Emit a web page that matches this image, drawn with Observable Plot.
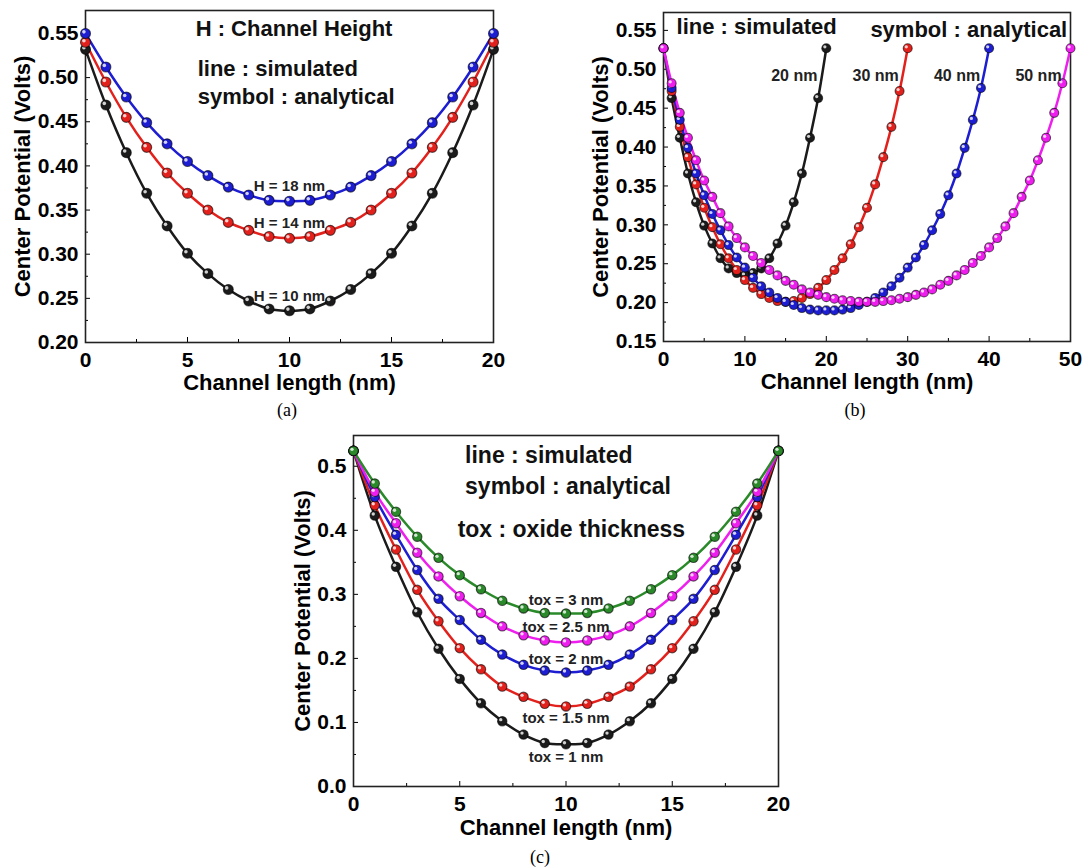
<!DOCTYPE html>
<html><head><meta charset="utf-8">
<script src="https://cdn.jsdelivr.net/npm/d3@7"></script>
<script src="https://cdn.jsdelivr.net/npm/@observablehq/plot@0.6"></script>
<style>
body{margin:0;background:#fff;}
#wrap{position:relative;width:1085px;height:868px;background:#fff;overflow:hidden;}
.cap{position:absolute;font-family:"Liberation Serif","Times New Roman",serif;font-size:18px;transform:translate(-50%,-50%);color:#000;}
</style></head><body>
<div id="wrap"></div>
<script>
// ---------- Panel (a): channel height ----------
const xA = [0,1,2,3,4,5,6,7,8,9,10,11,12,13,14,15,16,17,18,19,20];
const h10 = [0.532,0.469,0.415,0.369,0.332,0.301,0.278,0.260,0.247,0.238,0.236,0.238,0.247,0.260,0.278,0.301,0.332,0.369,0.415,0.469,0.532];
const h14 = [0.540,0.495,0.455,0.421,0.392,0.369,0.350,0.336,0.327,0.320,0.318,0.320,0.327,0.336,0.350,0.369,0.392,0.421,0.455,0.495,0.540];
const h18 = [0.550,0.512,0.478,0.449,0.425,0.405,0.389,0.376,0.367,0.361,0.360,0.361,0.367,0.376,0.389,0.405,0.425,0.449,0.478,0.512,0.550];
const labelsA = ["H = 10 nm","H = 14 nm","H = 18 nm"];

// ---------- Panel (b): channel length ----------
const x20 = [0,1,2,3,4,5,6,7,8,9,10,11,12,13,14,15,16,17,18,19,20];
const L20 = [0.527,0.463,0.412,0.366,0.329,0.299,0.276,0.257,0.244,0.238,0.235,0.238,0.244,0.257,0.276,0.299,0.329,0.366,0.412,0.463,0.527];
const x30 = [0,1,2,3,4,5,6,7,8,9,10,11,12,13,14,15,16,17,18,19,20,21,22,23,24,25,26,27,28,29,30];
const L30 = [0.527,0.472,0.426,0.387,0.352,0.322,0.297,0.275,0.257,0.242,0.229,0.219,0.211,0.206,0.202,0.201,0.202,0.206,0.211,0.219,0.229,0.242,0.257,0.275,0.297,0.322,0.352,0.387,0.426,0.472,0.527];
const x40 = [0,1,2,3,4,5,6,7,8,9,10,11,12,13,14,15,16,17,18,19,20,21,22,23,24,25,26,27,28,29,30,31,32,33,34,35,36,37,38,39,40];
const L40 = [0.527,0.476,0.435,0.399,0.366,0.338,0.314,0.293,0.274,0.258,0.245,0.232,0.221,0.213,0.206,0.201,0.197,0.193,0.191,0.190,0.190,0.190,0.191,0.193,0.197,0.201,0.206,0.213,0.221,0.232,0.245,0.258,0.274,0.293,0.314,0.338,0.366,0.399,0.435,0.476,0.527];
const x50 = [0,1,2,3,4,5,6,7,8,9,10,11,12,13,14,15,16,17,18,19,20,21,22,23,24,25,26,27,28,29,30,31,32,33,34,35,36,37,38,39,40,41,42,43,44,45,46,47,48,49,50];
const L50 = [0.527,0.482,0.444,0.412,0.383,0.357,0.336,0.315,0.298,0.283,0.271,0.260,0.251,0.242,0.235,0.228,0.223,0.217,0.213,0.210,0.207,0.205,0.203,0.202,0.201,0.201,0.201,0.202,0.203,0.205,0.207,0.210,0.213,0.217,0.223,0.228,0.235,0.242,0.251,0.260,0.271,0.283,0.298,0.315,0.336,0.357,0.383,0.412,0.444,0.482,0.527];
const labelsB = ["20 nm","30 nm","40 nm","50 nm"];

// ---------- Panel (c): oxide thickness ----------
const xC = [0,1,2,3,4,5,6,7,8,9,10,11,12,13,14,15,16,17,18,19,20];
const t10 = [0.524,0.423,0.343,0.272,0.215,0.168,0.130,0.102,0.081,0.068,0.066,0.068,0.081,0.102,0.130,0.168,0.215,0.272,0.343,0.423,0.524];
const t15 = [0.524,0.439,0.370,0.307,0.258,0.216,0.183,0.156,0.140,0.129,0.125,0.129,0.140,0.156,0.183,0.216,0.258,0.307,0.370,0.439,0.524];
const t20 = [0.524,0.452,0.393,0.338,0.293,0.260,0.229,0.206,0.190,0.181,0.178,0.181,0.190,0.206,0.229,0.260,0.293,0.338,0.393,0.452,0.524];
const t25 = [0.524,0.460,0.411,0.365,0.328,0.297,0.271,0.250,0.236,0.228,0.225,0.228,0.236,0.250,0.271,0.297,0.328,0.365,0.411,0.460,0.524];
const t30 = [0.524,0.473,0.429,0.390,0.357,0.330,0.308,0.290,0.278,0.271,0.270,0.271,0.278,0.290,0.308,0.330,0.357,0.390,0.429,0.473,0.524];
const labelsC = ["tox = 1 nm","tox = 1.5 nm","tox = 2 nm","tox = 2.5 nm","tox = 3 nm"];

// tick values
const xTicks20 = [0,5,10,15,20], xMinor20 = [2.5,7.5,12.5,17.5];
const xTicks50 = [0,10,20,30,40,50], xMinor50 = [5,15,25,35,45];
const yTicksA = [0.20,0.25,0.30,0.35,0.40,0.45,0.50,0.55], yMinorA = [0.225,0.275,0.325,0.375,0.425,0.475,0.525];
const yTicksB = [0.15,0.20,0.25,0.30,0.35,0.40,0.45,0.50,0.55], yMinorB = [0.175,0.225,0.275,0.325,0.375,0.425,0.475,0.525];
const yTicksC = [0.0,0.1,0.2,0.3,0.4,0.5], yMinorC = [0.05,0.15,0.25,0.35,0.45];

const COL = {black:"#1b1b1b", red:"#e3211c", blue:"#1d1dd2", magenta:"#ee1fee", green:"#2a8a2a"};
const FONT = "'Liberation Sans', Arial, Helvetica, sans-serif";

function rows(xs, ys){ return xs.map((x,i)=>({x, y: ys[i]})); }

function seriesMarks(series, r){
  const m = [];
  for (const s of series){
    const d = rows(s.x, s.y);
    m.push(Plot.line(d, {x:"x", y:"y", stroke:s.color, strokeWidth:2.5, curve:"catmull-rom"}));
  }
  for (const s of series){
    const d = rows(s.x, s.y);
    m.push(Plot.dot(d, {x:"x", y:"y", r, fill:s.color, stroke:"#000", strokeOpacity:0.6, strokeWidth:1.1}));
    m.push(Plot.dot(d, {x:"x", y:"y", r:r*0.36, fill:"#fff", fillOpacity:0.8, dx:-r*0.32, dy:-r*0.32}));
  }
  return m;
}

function axes(xT, xM, yT, yM, yFmt, xLabelDy, yLabelDx){
  return [
    Plot.axisX(xT, {anchor:"bottom", tickSize:-5, tickPadding:15, tickFormat:d3.format("d"), label:null, fontSize:21, fontWeight:"bold", fill:"#000"}),
    Plot.axisX(xM, {anchor:"bottom", tickSize:-3, tickFormat:()=>"", label:null}),
    Plot.axisY(yT, {anchor:"left", tickSize:-5, tickPadding:12, tickFormat:yFmt, label:null, fontSize:21, fontWeight:"bold", fill:"#000"}),
    Plot.axisY(yM, {anchor:"left", tickSize:-3, tickFormat:()=>"", label:null}),
    Plot.frame({stroke:"#222", strokeWidth:1.6}),
    Plot.text(["Channel length (nm)"], {frameAnchor:"bottom", dy:xLabelDy, text:d=>d, textAnchor:"middle", fontSize:22, fontWeight:"bold", lineAnchor:"middle", fill:"#000"}),
    Plot.text(["Center Potential (Volts)"], {frameAnchor:"left", dx:yLabelDx, rotate:-90, text:d=>d, textAnchor:"middle", fontSize:22, fontWeight:"bold", lineAnchor:"middle", fill:"#000"})
  ];
}

function place(svg, left, top){
  svg.style.position = "absolute";
  svg.style.left = left + "px";
  svg.style.top = top + "px";
  document.getElementById("wrap").appendChild(svg);
}

const baseStyle = {fontFamily: FONT, fontSize:"22px", fontWeight:"bold", background:"transparent", color:"#000", overflow:"visible"};

// ----- (a)
const seriesA = [
  {x:xA, y:h10, color:COL.black, label:labelsA[0]},
  {x:xA, y:h14, color:COL.red, label:labelsA[1]},
  {x:xA, y:h18, color:COL.blue, label:labelsA[2]}
];
const plotA = Plot.plot({
  width:500, height:400, marginLeft:85, marginRight:7, marginTop:10, marginBottom:58,
  style: baseStyle,
  x:{domain:[0,20]}, y:{domain:[0.2,0.576]},
  marks:[
    ...axes(xTicks20, xMinor20, yTicksA, yMinorA, d3.format(".2f"), 40, -63),
    ...seriesMarks(seriesA, 5),
    Plot.text(seriesA, {x:s=>s.x[10], y:s=>s.y[10], text:"label", dy:-15, fontSize:15, fontWeight:"bold", fill:"#222"}),
    Plot.text(["H : Channel Height"], {x:5.4, y:0.555, text:d=>d, textAnchor:"start", fontSize:22, fontWeight:"bold", fill:"#111"}),
    Plot.text(["line : simulated"], {x:5.5, y:0.510, text:d=>d, textAnchor:"start", fontSize:22, fontWeight:"bold", fill:"#111"}),
    Plot.text(["symbol : analytical"], {x:5.5, y:0.478, text:d=>d, textAnchor:"start", fontSize:22, fontWeight:"bold", fill:"#111"})
  ]
});
place(plotA, 0, 0);

// ----- (b)
const seriesB = [
  {x:x20, y:L20, color:COL.black, label:labelsB[0]},
  {x:x30, y:L30, color:COL.red, label:labelsB[1]},
  {x:x40, y:L40, color:COL.blue, label:labelsB[2]},
  {x:x50, y:L50, color:COL.magenta, label:labelsB[3]}
];
const plotB = Plot.plot({
  width:500, height:400, marginLeft:83, marginRight:10, marginTop:12, marginBottom:59,
  style: baseStyle,
  x:{domain:[0,50]}, y:{domain:[0.15,0.573]},
  marks:[
    ...axes(xTicks50, xMinor50, yTicksB, yMinorB, d3.format(".2f"), 40, -63),
    ...seriesMarks(seriesB, 4.5),
    Plot.text(seriesB, {x:s=>s.x[s.x.length-1], y:s=>s.y[s.y.length-1], text:"label", dx:-32, dy:28, fontSize:16, fontWeight:"bold", fill:"#222"}),
    Plot.text(["line : simulated"], {x:1.6, y:0.554, text:d=>d, textAnchor:"start", fontSize:22, fontWeight:"bold", fill:"#111"}),
    Plot.text(["symbol : analytical"], {x:49.6, y:0.550, text:d=>d, textAnchor:"end", fontSize:22, fontWeight:"bold", fill:"#111"})
  ]
});
place(plotB, 580, 0);

// ----- (c)
const seriesC = [
  {x:xC, y:t10, color:COL.black, label:labelsC[0], dy:13},
  {x:xC, y:t15, color:COL.red, label:labelsC[1], dy:12},
  {x:xC, y:t20, color:COL.blue, label:labelsC[2], dy:-13},
  {x:xC, y:t25, color:COL.magenta, label:labelsC[3], dy:-15},
  {x:xC, y:t30, color:COL.green, label:labelsC[4], dy:-13}
];
const labelMarksC = seriesC.map(s => Plot.text([s], {x:d=>d.x[10], y:d=>d.y[10], text:"label", dy:s.dy, fontSize:15, fontWeight:"bold", fill:"#222"}));
const plotC = Plot.plot({
  width:520, height:420, marginLeft:83, marginRight:12, marginTop:10, marginBottom:59,
  style: baseStyle,
  x:{domain:[0,20]}, y:{domain:[0,0.548]},
  marks:[
    ...axes(xTicks20, xMinor20, yTicksC, yMinorC, d3.format(".1f"), 41, -51),
    ...seriesMarks(seriesC, 4.7),
    ...labelMarksC,
    Plot.text(["line : simulated"], {x:5.25, y:0.516, text:d=>d, textAnchor:"start", fontSize:23, fontWeight:"bold", fill:"#111"}),
    Plot.text(["symbol : analytical"], {x:5.25, y:0.468, text:d=>d, textAnchor:"start", fontSize:23, fontWeight:"bold", fill:"#111"}),
    Plot.text(["tox : oxide thickness"], {x:4.9, y:0.401, text:d=>d, textAnchor:"start", fontSize:23, fontWeight:"bold", fill:"#111"})
  ]
});
place(plotC, 270, 425);

// captions
for (const [t, x, y] of [["(a)",287,410],["(b)",855,410],["(c)",540,857]]){
  const c = document.createElement("div");
  c.className = "cap"; c.textContent = t;
  c.style.left = x + "px"; c.style.top = y + "px";
  document.getElementById("wrap").appendChild(c);
}
</script>
</body></html>
